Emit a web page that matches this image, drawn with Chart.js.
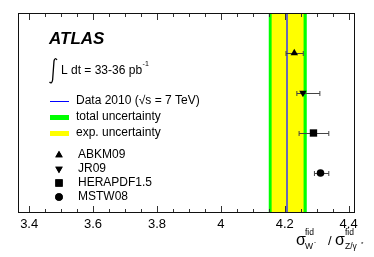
<!DOCTYPE html>
<html>
<head>
<meta charset="utf-8">
<script src="https://cdn.jsdelivr.net/npm/chart.js@4"></script>
<style>
  html, body { margin: 0; padding: 0; background: #fff; }
</style>
</head>
<body>
<canvas id="c" width="374" height="257"></canvas>
<script>
// === data ===
const pdfNames = ["ABKM09", "JR09", "HERAPDF1.5", "MSTW08"];
const pdfValues = [4.230, 4.257, 4.290, 4.312];
const pdfErrLow = [4.204, 4.238, 4.245, 4.293];
const pdfErrHigh = [4.258, 4.310, 4.338, 4.338];
const pdfStyles = ["triangle", "triangleDown", "rect", "circle"];
const dataValue = [4.208];
const totalBand = [4.150, 4.269];
const expBand = [4.159, 4.259];
const xTicks = [3.4, 3.6, 3.8, 4, 4.2, 4.4];

const FONT = "'Liberation Sans', Arial, sans-serif";

const radiusFor = s => s === "circle" ? 3.8 : s === "rect" ? 5.2 : 4.3;

// points on rows 1..4 (y axis reversed)
const datasets = pdfNames.map((n, i) => ({
  label: n,
  data: [{ x: pdfValues[i], y: i + 1 }],
  pointStyle: pdfStyles[i] === "triangleDown" ? "triangle" : pdfStyles[i],
  rotation: pdfStyles[i] === "triangleDown" ? 180 : 0,
  pointRadius: radiusFor(pdfStyles[i]),
  backgroundColor: "#000",
  borderColor: "#000",
  borderWidth: 0
}));

// === custom drawing: bands, errors, frame, ticks, text ===
const atlasPlugin = {
  id: "atlas",
  beforeDatasetsDraw(chart) {
    const { ctx, chartArea: a, scales: { x, y } } = chart;
    ctx.save();
    // total uncertainty band (green) then exp (yellow)
    ctx.fillStyle = "#00ff00";
    ctx.fillRect(x.getPixelForValue(totalBand[0]), a.top,
      x.getPixelForValue(totalBand[1]) - x.getPixelForValue(totalBand[0]), a.bottom - a.top);
    ctx.fillStyle = "#ffff00";
    ctx.fillRect(x.getPixelForValue(expBand[0]), a.top,
      x.getPixelForValue(expBand[1]) - x.getPixelForValue(expBand[0]), a.bottom - a.top);
    // data line
    const dx = Math.round(x.getPixelForValue(dataValue[0]));
    ctx.fillStyle = "#6a6ab4";
    ctx.fillRect(dx - 1, a.top, 2, a.bottom - a.top);
    // error bars
    ctx.strokeStyle = "#444";
    ctx.lineWidth = 1;
    pdfValues.forEach((v, i) => {
      const py = Math.round(y.getPixelForValue(i + 1)) + 0.5;
      const x0 = x.getPixelForValue(pdfErrLow[i]), x1 = x.getPixelForValue(pdfErrHigh[i]);
      ctx.beginPath();
      ctx.moveTo(x0, py); ctx.lineTo(x1, py);
      ctx.moveTo(x0, py - 2.5); ctx.lineTo(x0, py + 2.5);
      ctx.moveTo(x1, py - 2.5); ctx.lineTo(x1, py + 2.5);
      ctx.stroke();
    });
    ctx.restore();
  },
  afterDraw(chart) {
    const { ctx, chartArea: a, scales: { x } } = chart;
    ctx.save();
    // frame
    ctx.fillStyle = "#111";
    ctx.fillRect(a.left, a.top, a.right - a.left, 1);
    ctx.fillRect(a.left, a.bottom - 1, a.right - a.left, 1);
    ctx.fillRect(a.left, a.top, 1, a.bottom - a.top);
    ctx.fillRect(a.right - 1, a.top, 1, a.bottom - a.top);
    // ticks, major every 0.2, minor every 0.05
    ctx.fillStyle = "#333";
    for (let k = 0; k <= 20; k++) {
      const v = 3.4 + k * 0.05;
      const px = Math.round(x.getPixelForValue(v));
      const len = k % 4 === 0 ? 6 : 3;
      ctx.fillRect(px, a.bottom - 1 - len, 1, len);
      ctx.fillRect(px, a.top + 1, 1, len);
    }
    // tick labels
    ctx.fillStyle = "#000";
    ctx.font = "13px " + FONT;
    ctx.textAlign = "center";
    ctx.textBaseline = "middle";
    xTicks.forEach(t => ctx.fillText(String(t), x.getPixelForValue(t), a.bottom + 11));

    // axis title
    ctx.textAlign = "left";
    ctx.textBaseline = "alphabetic";
    ctx.font = "16px " + FONT;
    ctx.fillText("σ", 296, 245);
    ctx.font = "8.5px " + FONT;
    ctx.fillText("fid", 305, 235);
    ctx.fillText("W", 305, 249);
    ctx.font = "6px " + FONT;
    ctx.fillText("-", 314, 244);
    ctx.font = "13px " + FONT;
    ctx.fillText("/", 328, 245);
    ctx.font = "16px " + FONT;
    ctx.fillText("σ", 335, 245);
    ctx.font = "8.5px " + FONT;
    ctx.fillText("fid", 345, 235);
    ctx.fillText("Z/γ", 345, 249);
    ctx.font = "6px " + FONT;
    ctx.fillText("*", 361, 246);

    // ATLAS label
    ctx.font = "italic bold 17px " + FONT;
    ctx.textBaseline = "middle";
    ctx.fillText("ATLAS", 49, 39);
    // luminosity: integral sign drawn as a path
    ctx.strokeStyle = "#000";
    ctx.lineWidth = 1.3;
    ctx.beginPath();
    ctx.moveTo(57, 60);
    ctx.quadraticCurveTo(55, 57, 54, 61);
    ctx.lineTo(52.6, 80);
    ctx.quadraticCurveTo(51.8, 84.5, 49.5, 82);
    ctx.stroke();
    ctx.font = "12px " + FONT;
    ctx.fillText("L dt = 33-36 pb", 61, 71);
    const w = ctx.measureText("L dt = 33-36 pb").width;
    ctx.font = "7px " + FONT;
    ctx.fillText("-1", 61 + w + 0.5, 64);

    // legend
    ctx.font = "12px " + FONT;
    ctx.fillStyle = "#0000ff";
    ctx.fillRect(50, 101, 19, 1);
    ctx.fillStyle = "#000";
    ctx.fillText("Data 2010 (\u221As = 7 TeV)", 76, 101);
    ctx.fillStyle = "#00ff00";
    ctx.fillRect(50, 115, 19, 5);
    ctx.fillStyle = "#000";
    ctx.fillText("total uncertainty", 76, 117);
    ctx.fillStyle = "#ffff00";
    ctx.fillRect(50, 131, 19, 5);
    ctx.fillStyle = "#000";
    ctx.fillText("exp. uncertainty", 76, 133);

    const ly = [155, 169, 183, 197];
    pdfNames.forEach((n, i) => {
      const ds = chart.data.datasets[i];
      ctx.fillStyle = "#000";
      Chart.helpers.drawPoint(ctx, {
        pointStyle: ds.pointStyle, rotation: ds.rotation, radius: ds.pointRadius, borderWidth: 0
      }, 59, ly[i]);
      ctx.fill();
      ctx.fillText(n, 78, ly[i]);
    });
    ctx.restore();
  }
};

new Chart(document.getElementById("c"), {
  type: "scatter",
  data: { datasets },
  options: {
    responsive: false,
    animation: false,
    devicePixelRatio: 1,
    layout: { padding: { left: 18, top: 13, right: 19, bottom: 44 } },
    plugins: { legend: { display: false }, tooltip: { enabled: false } },
    scales: {
      x: { type: "linear", min: 3.365, max: 4.42, display: false },
      y: { type: "linear", min: 0, max: 5, reverse: true, display: false }
    }
  },
  plugins: [atlasPlugin]
});
</script>
</body>
</html>
